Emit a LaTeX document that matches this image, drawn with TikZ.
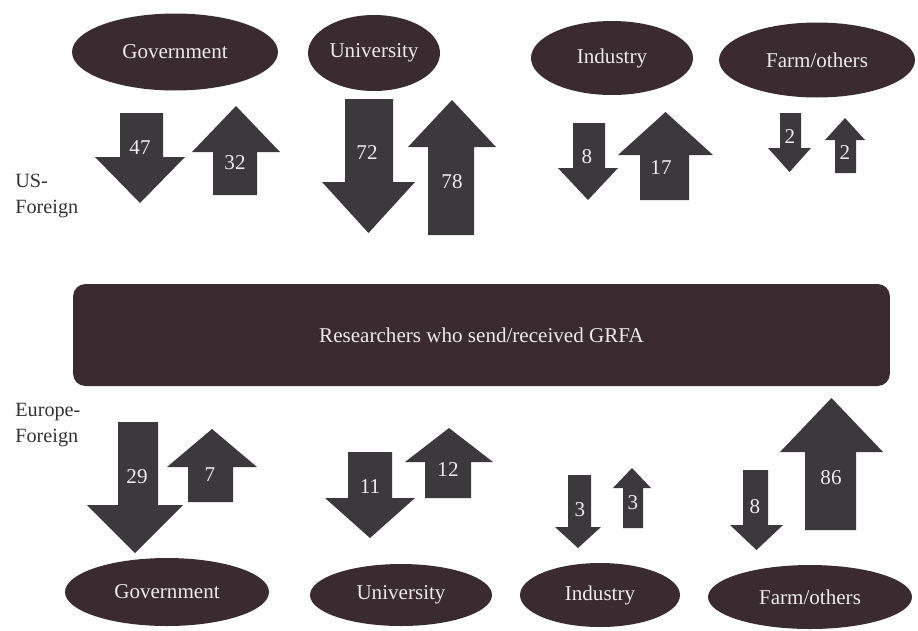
\documentclass[tikz,border=0pt]{standalone}
\usepackage{fontspec}
\setmainfont{Liberation Serif}
\usetikzlibrary{shapes.geometric}
\definecolor{boxfill}{HTML}{3A2B30}
\definecolor{arrowfill}{HTML}{3B393C}
\definecolor{labeltext}{HTML}{EDEAEA}
\tikzset{
  sector/.style={ellipse, fill=boxfill, text=labeltext, inner sep=0pt,
    font=\fontsize{12}{14}\selectfont},
  pool/.style={rectangle, rounded corners=7pt, fill=boxfill, text=labeltext,
    inner sep=0pt, font=\fontsize{12}{14}\selectfont},
  flowshape/.style={fill=arrowfill, draw=none},
  flowlabel/.style={text=labeltext, inner sep=0pt, font=\fontsize{12}{14}\selectfont},
  sidelabel/.style={align=left, anchor=north west, text=black!80, inner sep=0pt,
    font=\fontsize{11.5}{14.5}\selectfont},
}
% block arrow: #1 node name, #2/#3 shaft left/right, #4/#5 head left/right,
% #6 tail y, #7 head base y, #8 tip y, #9 label, then label position
\newcommand{\flowarrow}[9]{%
  \fill[flowshape] (#2,#6) -- (#2,#7) -- (#4,#7) -- ({(#4+#5)/2},#8)
    -- (#5,#7) -- (#3,#7) -- (#3,#6) -- cycle;
  \flowlabelat{#1}{#9}%
}
\newcommand{\flowlabelat}[3]{\node[flowlabel] (#1) at #3 {#2};}
\begin{document}
\begin{tikzpicture}[x=0.02cm, y=-0.02cm]
\useasboundingbox (0,0) rectangle (918,630);

% sectors on the US side
\node[sector, minimum width=4.12cm, minimum height=1.54cm] (usgov)  at (175,52) {Government};
\node[sector, minimum width=2.64cm, minimum height=1.52cm] (usuni)  at (374,53) {University};
\node[sector, minimum width=3.24cm, minimum height=1.48cm] (usind)  at (612,58) {Industry};
\node[sector, minimum width=3.92cm, minimum height=1.50cm] (usfarm) at (817,60) {Farm/others};

% central pool of researchers
\node[pool, minimum width=16.34cm, minimum height=2.04cm] (pool) at (481.5,335)
  {Researchers who send/received GRFA};

% sectors on the European side
\node[sector, minimum width=4.08cm, minimum height=1.36cm] (eugov)  at (167,592) {Government};
\node[sector, minimum width=3.64cm, minimum height=1.24cm] (euuni)  at (401,595) {University};
\node[sector, minimum width=3.20cm, minimum height=1.28cm] (euind)  at (600,595) {Industry};
\node[sector, minimum width=4.08cm, minimum height=1.28cm] (eufarm) at (810,597) {Farm/others};

% side labels
\node[sidelabel] (uslabel) at (15,174) {US-\\Foreign};
\node[sidelabel] (eulabel) at (15,403) {Europe-\\Foreign};

% US-Foreign flows
\flowarrow{a47}{120}{163}{95}{185}{113}{157}{203}{47}{(140,148)}
\flowarrow{a32}{213}{257}{192}{280}{195}{152}{106}{32}{(235,163)}
\flowarrow{a72}{345}{393}{322}{415}{99}{182}{233}{72}{(367,153)}
\flowarrow{a78}{428}{474}{408}{496}{235}{147}{100}{78}{(452,182)}
\flowarrow{a8}{573}{605}{558}{618}{123}{168}{200}{8}{(587,157)}
\flowarrow{a17}{640}{689}{618}{713}{200}{155}{112}{17}{(661,168)}
\flowarrow{a2d}{780}{801}{768}{811}{113}{148}{172}{2}{(790,137)}
\flowarrow{a2u}{835}{856}{825}{865}{173}{140}{118}{2}{(845,153)}

% Europe-Foreign flows
\flowarrow{b29}{118}{158}{87}{183}{422}{505}{553}{29}{(137,477)}
\flowarrow{b7}{188}{233}{167}{257}{502}{467}{429}{7}{(210,475)}
\flowarrow{b11}{348}{392}{325}{415}{452}{498}{538}{11}{(370,487)}
\flowarrow{b12}{425}{471}{405}{493}{498}{462}{428}{12}{(448,470)}
\flowarrow{b3d}{568}{591}{555}{601}{475}{527}{548}{3}{(580,510)}
\flowarrow{b3u}{623}{643}{613}{651}{528}{488}{468}{3}{(633,503)}
\flowarrow{b8}{743}{768}{730}{783}{470}{525}{550}{8}{(755,507)}
\flowarrow{b86}{805}{856}{780}{883}{530}{452}{398}{86}{(831,478)}
\end{tikzpicture}
\end{document}
